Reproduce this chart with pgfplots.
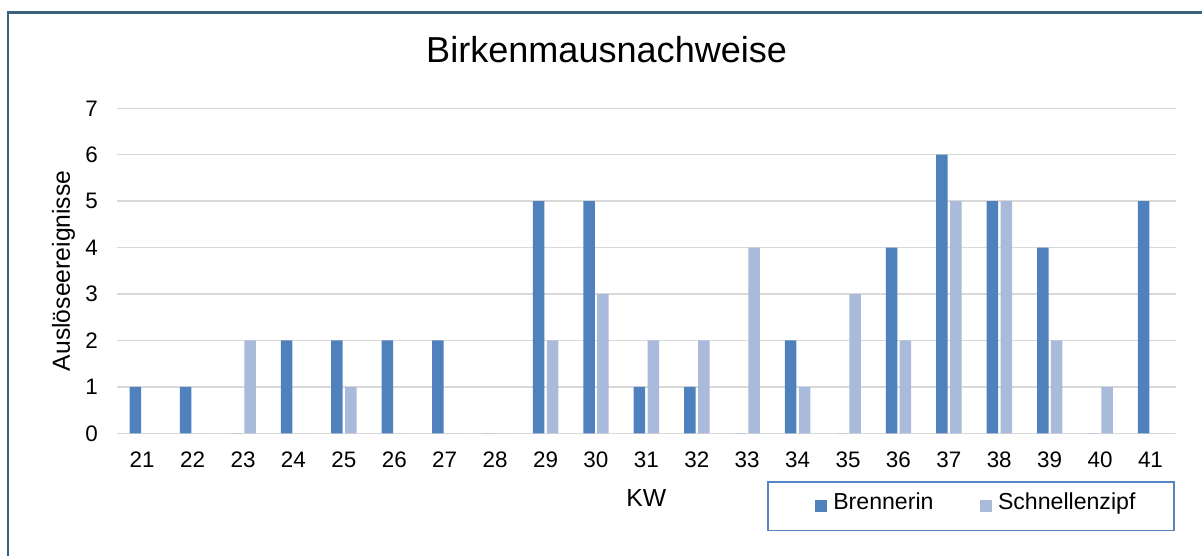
\documentclass[border=0pt]{standalone}
\usepackage{fontspec}
\setmainfont{Liberation Sans}
\usepackage{pgfplots}
\pgfplotsset{compat=1.18}
\definecolor{brenn}{RGB}{79,129,189}
\definecolor{schnell}{RGB}{169,186,219}
\definecolor{gridgray}{RGB}{217,217,217}
\definecolor{framecol}{RGB}{58,98,124}
\definecolor{legcol}{RGB}{84,134,196}
\begin{document}
\begin{tikzpicture}
\useasboundingbox (0,0) rectangle (1202bp,-556bp);
\fill[white] (0,0) rectangle (1202bp,-556bp);
\draw[framecol, line width=2.3bp] (8bp,-560bp) -- (8bp,-12.5bp) -- (1206bp,-12.5bp);
\begin{axis}[
  at={(117bp,-433.3bp)}, anchor=south west,
  scale only axis, width=1058.7bp, height=325bp,
  xmin=20.5, xmax=41.5, ymin=0, ymax=7,
  xtick={21,...,41}, ytick={0,...,7},
  major tick length=0pt,
  axis line style={draw=none},
  ymajorgrids, grid style={gridgray, line width=1.5bp},
  ybar, bar width=11.5bp,
  /pgf/number format/assume math mode=true,
  tick label style={font=\fontsize{22.5}{22.5}\selectfont, inner sep=0pt, text=black},
  xticklabel shift=18.5bp, yticklabel shift=19bp,
  title={Birkenmausnachweise},
  title style={at={(axis description cs:0.4625,1.124)}, anchor=base, inner sep=0pt,
    font=\fontsize{36.2}{36.2}\selectfont},
  xlabel={KW},
  xlabel style={at={(axis description cs:0.5,-0.2237)}, anchor=base, inner sep=0pt,
    font=\fontsize{24.8}{24.8}\selectfont},
  ylabel={Auslöseereignisse},
  ylabel style={at={(axis description cs:-0.0445,0.5)}, anchor=base, rotate=0, inner sep=0pt,
    font=\fontsize{24.8}{24.8}\selectfont},
  legend columns=2,
  legend style={at={(axis description cs:0.614,-0.1475)}, anchor=north west,
    draw=legcol, line width=1.5bp, fill=white,
    inner xsep=38.5bp, inner ysep=10.9bp,
    nodes={inner sep=0pt, text depth=10bp, font=\fontsize{23.2}{23.2}\selectfont},
    /tikz/every odd column/.append style={column sep=6.4bp},
    /tikz/every even column/.append style={column sep=37.5bp}},
  legend image code/.code={\path (-8.6bp,0bp); \fill[#1] (0bp,-5.9bp) rectangle (12bp,6.1bp);},
]
\addplot[fill=brenn, draw=none, bar shift=-6.9bp] coordinates {
 (21,1) (22,1) (23,0) (24,2) (25,2) (26,2) (27,2) (28,0) (29,5) (30,5) (31,1)
 (32,1) (33,0) (34,2) (35,0) (36,4) (37,6) (38,5) (39,4) (40,0) (41,5)};
\addplot[fill=schnell, draw=none, bar shift=7bp] coordinates {
 (21,0) (22,0) (23,2) (24,0) (25,1) (26,0) (27,0) (28,0) (29,2) (30,3) (31,2)
 (32,2) (33,4) (34,1) (35,3) (36,2) (37,5) (38,5) (39,2) (40,1) (41,0)};
\legend{Brennerin, Schnellenzipf}
\end{axis}
\end{tikzpicture}
\end{document}
